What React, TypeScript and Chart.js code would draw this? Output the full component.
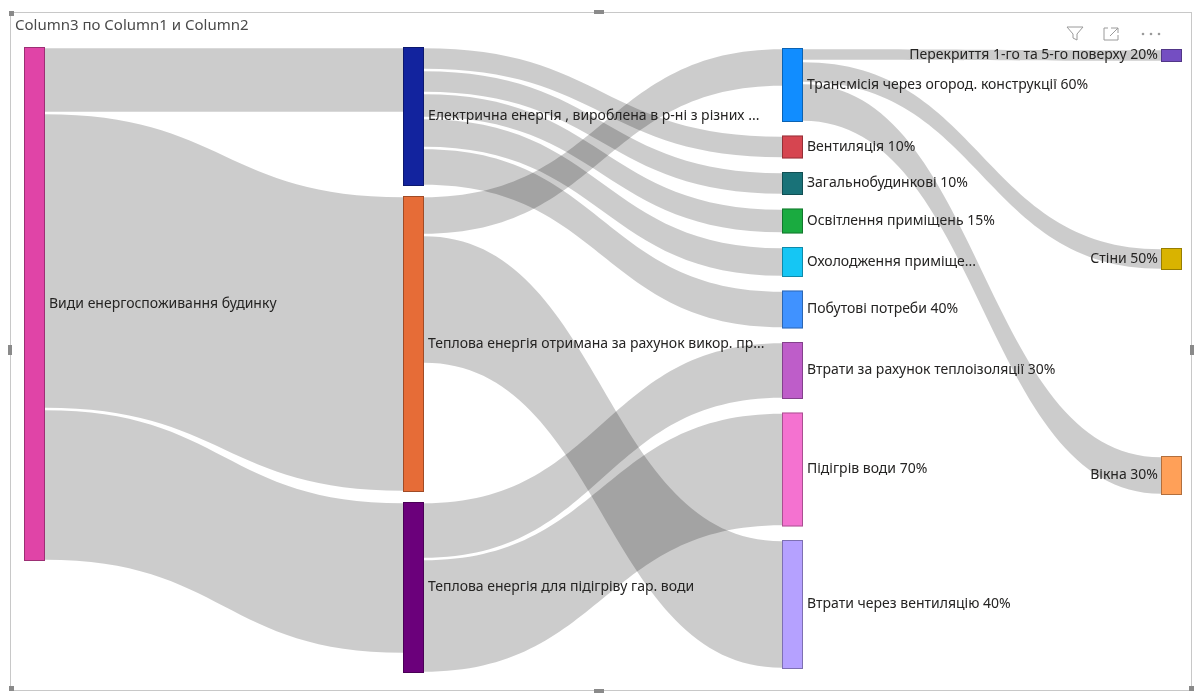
import React, { useEffect, useRef } from 'react';
import { Chart, registerables } from 'chart.js';

Chart.register(...registerables);

// ---------- data ----------
const TITLE = 'Column3 по Column1 и Column2';

const NODE_NAMES = [
  'Види енергоспоживання будинку',
  'Електрична енергія , вироблена в р-ні з різних ...',
  'Теплова енергія отримана за рахунок викор. пр...',
  'Теплова енергія для підігріву гар. води',
  'Трансмісія через огород. конструкції 60%',
  'Вентиляція 10%',
  'Загальнобудинкові 10%',
  'Освітлення приміщень 15%',
  'Охолодження приміще...',
  'Побутові потреби 40%',
  'Втрати за рахунок теплоізоляції 30%',
  'Підігрів води 70%',
  'Втрати через вентиляцію 40%',
  'Перекриття 1-го та 5-го поверху 20%',
  'Стіни 50%',
  'Вікна 30%',
];

const NODE_COLUMNS = [0, 1, 1, 1, 2, 2, 2, 2, 2, 2, 2, 2, 2, 3, 3, 3];

const LINK_SOURCES = [0, 0, 0, 1, 1, 1, 1, 1, 2, 2, 3, 3, 4, 4, 4];
const LINK_TARGETS = [1, 2, 3, 5, 6, 7, 8, 9, 4, 12, 10, 11, 13, 14, 15];
const LINK_VALUES = [66, 296, 152, 23, 23, 25, 30, 38, 39, 129, 57, 114, 13, 22, 39];

// ---------- style / layout ----------
const NODE_COLORS = [
  '#E044A7', '#12239E', '#E66C37', '#6B007B',
  '#118DFF', '#D64550', '#197278', '#1AAB40', '#15C6F4', '#4092FF',
  '#BE5DC9', '#F472D0', '#B5A1FF',
  '#744EC2', '#D9B300', '#FFA058',
];
const COLUMN_GAP = [0, 10, 13.5, 186];
const COLUMN_OFFSET = [0, 0, 1, 2];
const Y_MAX = 626;
const NODE_WIDTH = 21;
const LINK_COLOR = 'rgba(0,0,0,0.2)';
const LABEL_FONT = '14px "Noto Sans", "Open Sans", sans-serif';
const TEXT_COLOR = '#252423';

function computeLayout() {
  const n = NODE_NAMES.length;
  const inSum = new Array(n).fill(0);
  const outSum = new Array(n).fill(0);
  LINK_VALUES.forEach((v, l) => {
    outSum[LINK_SOURCES[l]] += v;
    inSum[LINK_TARGETS[l]] += v;
  });
  const size = inSum.map((v, i) => Math.max(v, outSum[i]));
  const top: number[] = new Array(n).fill(0);
  const cursor = COLUMN_OFFSET.slice();
  for (let i = 0; i < n; i++) {
    const c = NODE_COLUMNS[i];
    top[i] = cursor[c];
    cursor[c] += size[i] + COLUMN_GAP[c];
  }
  const sy: number[] = new Array(LINK_VALUES.length).fill(0);
  const ty: number[] = new Array(LINK_VALUES.length).fill(0);
  for (let i = 0; i < n; i++) {
    const outs = LINK_VALUES.map((_, l) => l).filter((l) => LINK_SOURCES[l] === i)
      .sort((a, b) => top[LINK_TARGETS[a]] - top[LINK_TARGETS[b]]);
    let c = top[i];
    outs.forEach((l) => { sy[l] = c; c += LINK_VALUES[l]; });
    const ins = LINK_VALUES.map((_, l) => l).filter((l) => LINK_TARGETS[l] === i)
      .sort((a, b) => top[LINK_SOURCES[a]] - top[LINK_SOURCES[b]]);
    c = top[i];
    ins.forEach((l) => { ty[l] = c; c += LINK_VALUES[l]; });
  }
  return { size, top, sy, ty };
}

const sankeyPlugin = {
  id: 'sankeyDraw',
  beforeDraw(chart: any) {
    const ctx = chart.ctx;
    ctx.save();
    ctx.fillStyle = '#ffffff';
    ctx.fillRect(0, 0, chart.width, chart.height);
    // frame
    ctx.strokeStyle = '#c8c8c8';
    ctx.lineWidth = 1;
    ctx.strokeRect(10.5, 12.5, 1181, 678);
    ctx.fillStyle = '#8a8a8a';
    ctx.fillRect(9, 11, 5, 5);
    ctx.fillRect(594, 10, 10, 4);
    ctx.fillRect(594, 689, 10, 4);
    ctx.fillRect(8, 345, 4, 10);
    ctx.fillRect(1190, 345, 4, 10);
    ctx.fillRect(1189, 686, 5, 5);
    ctx.fillRect(9, 686, 5, 5);
    // title
    ctx.fillStyle = '#4a4a4a';
    ctx.font = '15px "Noto Sans", sans-serif';
    ctx.textAlign = 'left';
    ctx.textBaseline = 'alphabetic';
    ctx.fillText(TITLE, 15, 30);
    // header icons
    ctx.strokeStyle = '#9a9a9a';
    ctx.lineWidth = 1;
    ctx.beginPath();
    ctx.moveTo(1067, 27); ctx.lineTo(1083, 27); ctx.lineTo(1077, 34);
    ctx.lineTo(1077, 40); ctx.lineTo(1073, 38); ctx.lineTo(1073, 34); ctx.closePath();
    ctx.stroke();
    ctx.beginPath();
    ctx.moveTo(1108, 28); ctx.lineTo(1104, 28); ctx.lineTo(1104, 40); ctx.lineTo(1118, 40); ctx.lineTo(1118, 35);
    ctx.moveTo(1111, 28); ctx.lineTo(1118, 28); ctx.lineTo(1118, 33);
    ctx.moveTo(1118, 28); ctx.lineTo(1110, 36);
    ctx.stroke();
    ctx.fillStyle = '#9a9a9a';
    [1143, 1151, 1159].forEach((x) => { ctx.beginPath(); ctx.arc(x, 34, 1.3, 0, Math.PI * 2); ctx.fill(); });
    ctx.restore();
  },
  afterDatasetsDraw(chart: any) {
    const ctx = chart.ctx;
    const xs = chart.scales.x;
    const ys = chart.scales.y;
    const { size, top, sy, ty } = computeLayout();
    ctx.save();
    // links
    const inset = 1.2;
    LINK_VALUES.forEach((v, l) => {
      const s = LINK_SOURCES[l];
      const t = LINK_TARGETS[l];
      const x0 = xs.getPixelForValue(NODE_COLUMNS[s]) + NODE_WIDTH;
      const x1 = xs.getPixelForValue(NODE_COLUMNS[t]);
      const xm = (x0 + x1) / 2;
      const y0a = ys.getPixelForValue(sy[l]) + inset;
      const y0b = ys.getPixelForValue(sy[l] + v) - inset;
      const y1a = ys.getPixelForValue(ty[l]) + inset;
      const y1b = ys.getPixelForValue(ty[l] + v) - inset;
      ctx.beginPath();
      ctx.moveTo(x0, y0a);
      ctx.bezierCurveTo(xm, y0a, xm, y1a, x1, y1a);
      ctx.lineTo(x1, y1b);
      ctx.bezierCurveTo(xm, y1b, xm, y0b, x0, y0b);
      ctx.closePath();
      ctx.fillStyle = LINK_COLOR;
      ctx.fill();
    });
    // nodes
    NODE_NAMES.forEach((name, i) => {
      const x = xs.getPixelForValue(NODE_COLUMNS[i]);
      const y0 = ys.getPixelForValue(top[i]);
      const y1 = ys.getPixelForValue(top[i] + size[i]);
      ctx.fillStyle = NODE_COLORS[i];
      ctx.fillRect(x, y0, NODE_WIDTH, y1 - y0);
      ctx.strokeStyle = 'rgba(0,0,0,0.3)';
      ctx.lineWidth = 1;
      ctx.strokeRect(x + 0.5, y0 + 0.5, NODE_WIDTH - 1, y1 - y0 - 1);
    });
    // labels
    ctx.font = LABEL_FONT;
    ctx.fillStyle = TEXT_COLOR;
    ctx.textBaseline = 'middle';
    NODE_NAMES.forEach((name, i) => {
      const x = xs.getPixelForValue(NODE_COLUMNS[i]);
      const yc = (ys.getPixelForValue(top[i]) + ys.getPixelForValue(top[i] + size[i])) / 2;
      if (NODE_COLUMNS[i] === 3) {
        ctx.textAlign = 'right';
        ctx.fillText(name, x - 3, yc);
      } else {
        ctx.textAlign = 'left';
        ctx.fillText(name, x + NODE_WIDTH + 4, yc);
      }
    });
    ctx.restore();
  },
};

export default function App() {
  const canvasRef = useRef<HTMLCanvasElement | null>(null);
  useEffect(() => {
    if (!canvasRef.current) return;
    const chart = new Chart(canvasRef.current, {
      type: 'scatter',
      data: { datasets: [{ data: [] }] },
      options: {
        animation: false,
        responsive: true,
        maintainAspectRatio: false,
        layout: { padding: { left: 24, right: 36, top: 47, bottom: 20 } },
        scales: {
          x: { type: 'linear', min: 0, max: 3, display: false },
          y: { type: 'linear', min: 0, max: Y_MAX, reverse: true, display: false },
        },
        plugins: { legend: { display: false }, tooltip: { enabled: false }, title: { display: false } },
      },
      plugins: [sankeyPlugin],
    } as any);
    return () => chart.destroy();
  }, []);
  return (
    <div style={{ position: 'absolute', left: 0, top: 0, width: 1197, height: 693, background: '#fff' }}>
      <canvas ref={canvasRef} />
    </div>
  );
}
